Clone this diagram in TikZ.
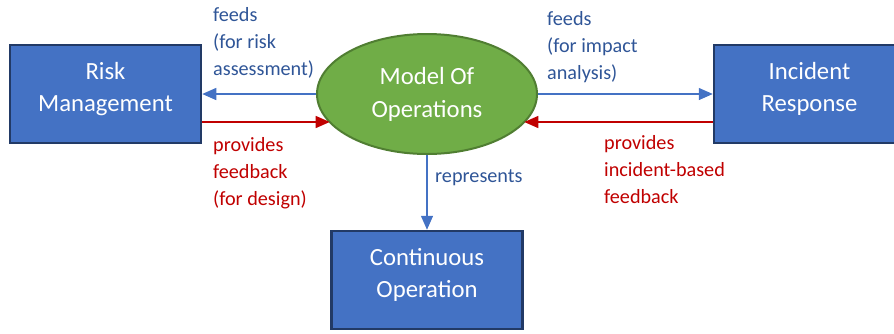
\documentclass[tikz,border=0pt]{standalone}
\usepackage{fontspec}
\setmainfont{Carlito}
\usetikzlibrary{shapes.geometric,arrows.meta}

\definecolor{boxfill}{HTML}{4472C4}
\definecolor{boxline}{HTML}{223A66}
\definecolor{ellfill}{HTML}{70AD47}
\definecolor{ellline}{HTML}{507E32}
\definecolor{feedblue}{HTML}{4472C4}
\definecolor{labelblue}{HTML}{2F5597}
\definecolor{feedred}{HTML}{C00000}

\tikzset{
  unitbox/.style={draw=boxline, fill=boxfill, line width=2.5pt,
    minimum width=191pt, minimum height=98pt, inner sep=0pt,
    text=white, align=center, text height=40pt, text depth=5pt,
    font=\fontsize{24.7}{32}\selectfont},
  modelell/.style={ellipse, draw=ellline, fill=ellfill, line width=2pt,
    minimum width=220pt, minimum height=120pt, inner sep=0pt,
    text=white, align=center,
    font=\fontsize{24.7}{33}\selectfont},
  bluearrow/.style={draw=feedblue, line width=1.4pt,
    -{Triangle[length=14pt,width=12pt]}},
  redarrow/.style={draw=feedred, line width=1.4pt,
    -{Triangle[length=14pt,width=12pt]}},
  bluelabel/.style={anchor=north west, inner sep=0pt, align=left,
    text=labelblue, font=\fontsize{20.2}{27}\selectfont},
  redlabel/.style={anchor=north west, inner sep=0pt, align=left,
    text=feedred, font=\fontsize{20.2}{27}\selectfont}
}

\begin{document}
\begin{tikzpicture}[x=1pt, y=-1pt]
  \useasboundingbox (0,0) rectangle (894,333);
  \clip (0,0) rectangle (894,333);

  % units and the central model
  \node[unitbox] (rm) at (105.5,94) {Risk\\Management};
  \node[modelell] (mo) at (427,94) {Model Of\\Operations};
  \node[unitbox] (ir) at (809.5,94) {Incident\\Response};
  \node[unitbox] (co) at (427,280) {Continuous\\Operation};

  % points where the feedback arrows meet the ellipse
  \coordinate (rmlow) at ([yshift=-28pt]rm.east);
  \coordinate (irlow) at ([yshift=-28pt]ir.west);
  \coordinate (moleft) at ([shift={(-97.3pt,-28pt)}]mo.center);
  \coordinate (moright) at ([shift={(97.3pt,-28pt)}]mo.center);

  % connectors
  \draw[bluearrow] (mo.west) -- (rm.east);
  \draw[redarrow] (rmlow) -- (moleft);
  \draw[bluearrow] (mo.east) -- (ir.west);
  \draw[redarrow] (irlow) -- (moright);
  \draw[bluearrow] (mo.south) -- (co.north);

  % connector labels
  \node[bluelabel] (l1) at (213,7) {feeds\\(for risk\\assessment)};
  \node[redlabel] (l2) at (213,137) {provides\\feedback\\(for design)};
  \node[bluelabel] (l3) at (547,11) {feeds\\(for impact\\analysis)};
  \node[redlabel] (l4) at (604,135) {provides\\incident-based\\feedback};
  \node[bluelabel] (l5) at (435,170) {represents};
\end{tikzpicture}
\end{document}
